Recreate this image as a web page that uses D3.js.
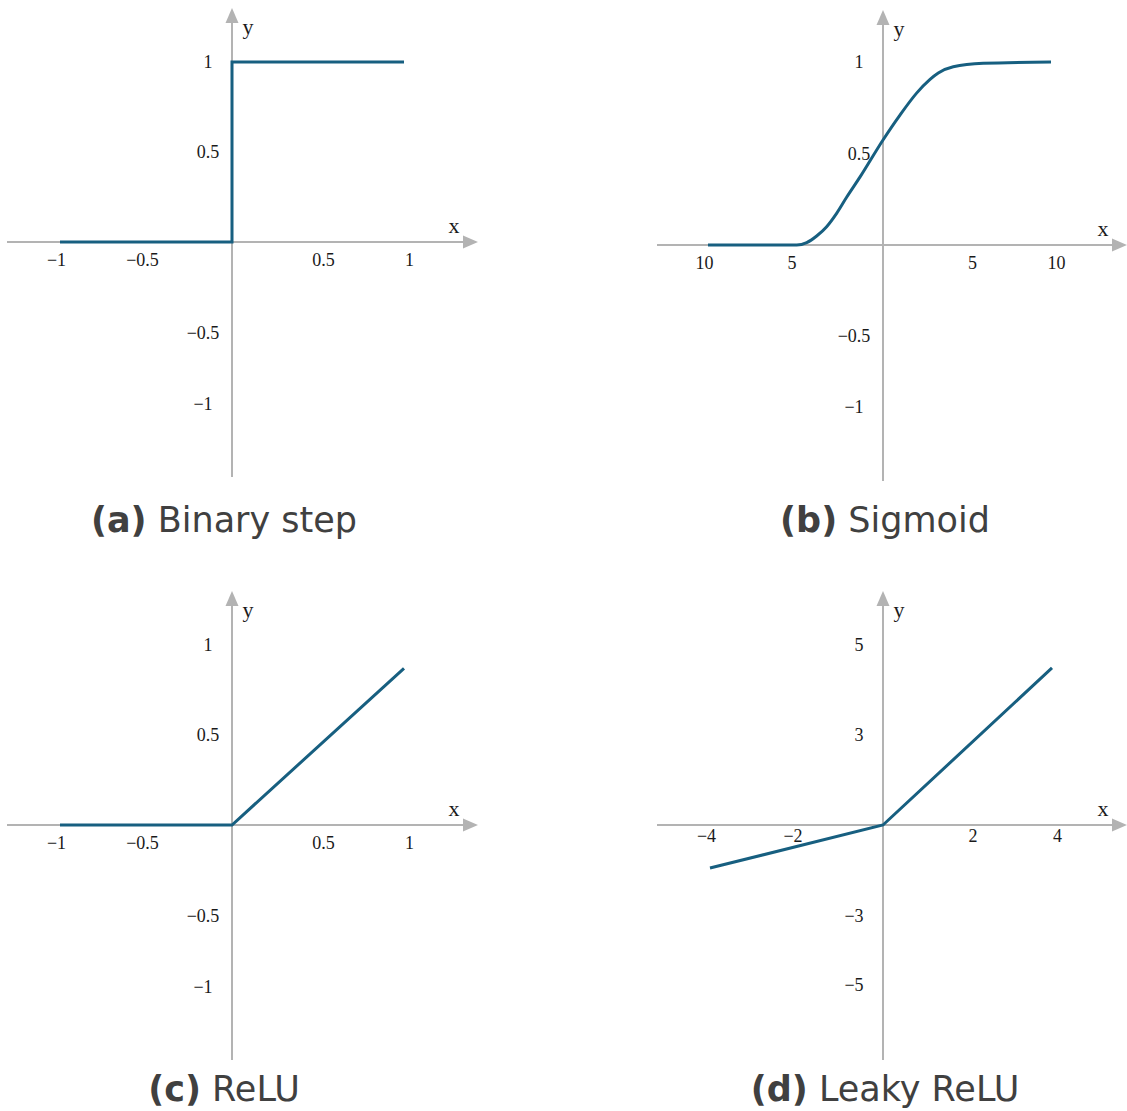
<!DOCTYPE html>
<html>
<head>
<meta charset="utf-8">
<script src="https://cdn.jsdelivr.net/npm/d3@7"></script>
<style>
  body { margin: 0; background: #fff; }
  .tick text { font-family: "Liberation Serif", serif; font-size: 18px; fill: #1a1a1a; }
  .axlabel { font-family: "Liberation Serif", serif; font-size: 22px; fill: #1a1a1a; }
  .caption { font-family: "DejaVu Sans", sans-serif; font-size: 35px; fill: #404040; }
</style>
</head>
<body>
<div id="chart"></div>
<script>
// activation function curves
var stepX = [-1, 0, 0, 1];
var stepY = [0, 0, 1, 1];

var sigX = [-10, -4.93, -4.36, -3.79, -3.22, -2.65, -2.07, -1.31, 0, 1.01, 2.0, 2.8, 3.29, 4.18, 5.97, 10];
var sigY = [0, 0, 0.013, 0.049, 0.10, 0.173, 0.262, 0.372, 0.574, 0.71, 0.83, 0.905, 0.94, 0.974, 0.993, 1.0];

var reluX = [-1, 0, 1];
var reluY = [0, 0, 0.87];

var leakyX = [-4, 0, 4];
var leakyY = [-1.42, 0, 4.49];

// tick values and the labels printed for them
var unitXTicks = [-1, -0.5, 0.5, 1];
var unitXLabels = ["\u22121", "\u22120.5", "0.5", "1"];
var unitYTicks = [1, 0.5, -0.5, -1];
var unitYLabels = ["1", "0.5", "\u22120.5", "\u22121"];

var sigXTicks = [-10, -5, 5, 10];
var sigXLabels = ["10", "5", "5", "10"];   // the original prints them without minus

var leakyXTicks = [-4, -2, 2, 4];
var leakyXLabels = ["\u22124", "\u22122", "2", "4"];
var leakyYTicks = [5, 3, -3, -5];
var leakyYLabels = ["5", "3", "\u22123", "\u22125"];

var captions = [["(a)", " Binary step"], ["(b)", " Sigmoid"], ["(c)", " ReLU"], ["(d)", " Leaky ReLU"]];

var curveColor = "#175f80";
var axisColor = "#b3b3b3";

var svg = d3.select("#chart").append("svg")
    .attr("width", 1127)
    .attr("height", 1111);

// layout of each little plot (pixel positions of the piecewise scales)
var panels = [
  { xs: stepX, ys: stepY, curve: d3.curveLinear,
    xDom: [-1, 0, 1], xRange: [60, 232, 404],
    yDom: [-1, -0.5, 0, 0.5, 1], yRange: [404, 333, 242, 152, 62],
    xTicks: unitXTicks, xLabels: unitXLabels, yTicks: unitYTicks, yLabels: unitYLabels,
    left: 7, right: 478, top: 8, bottom: 477, tickGap: 11, cap: 0, capX: 224, capY: 532 },
  { xs: sigX, ys: sigY, curve: d3.curveMonotoneX,
    xDom: [-10, 0, 10], xRange: [708, 883, 1051],
    yDom: [-1, -0.5, 0, 1], yRange: [407, 336, 245, 62],
    xTicks: sigXTicks, xLabels: sigXLabels, yTicks: unitYTicks, yLabels: unitYLabels,
    left: 657, right: 1127, top: 10, bottom: 481, tickGap: 11, cap: 1, capX: 885, capY: 532 },
  { xs: reluX, ys: reluY, curve: d3.curveLinear,
    xDom: [-1, 0, 1], xRange: [60, 232, 404],
    yDom: [-1, -0.5, 0, 0.5, 1], yRange: [987, 916, 825, 735, 645],
    xTicks: unitXTicks, xLabels: unitXLabels, yTicks: unitYTicks, yLabels: unitYLabels,
    left: 7, right: 478, top: 591, bottom: 1060, tickGap: 11, cap: 2, capX: 224, capY: 1101 },
  { xs: leakyX, ys: leakyY, curve: d3.curveLinear,
    xDom: [-4, 0, 4], xRange: [710, 883, 1052],
    yDom: [-5, -3, 0, 3, 5], yRange: [985, 916, 825, 735, 645],
    xTicks: leakyXTicks, xLabels: leakyXLabels, yTicks: leakyYTicks, yLabels: leakyYLabels,
    left: 657, right: 1127, top: 591, bottom: 1060, tickGap: 4, cap: 3, capX: 885, capY: 1101 }
];

function drawPanel(p) {
  var x = d3.scaleLinear().domain(p.xDom).range(p.xRange);
  var y = d3.scaleLinear().domain(p.yDom).range(p.yRange);
  var g = svg.append("g");
  var x0 = x(0), y0 = y(0);

  // axes lines + arrow heads
  g.append("line")
    .attr("x1", p.left).attr("x2", p.right - 12)
    .attr("y1", y0).attr("y2", y0)
    .style("stroke", axisColor).style("stroke-width", 2);
  g.append("path")
    .attr("d", "M" + p.right + "," + y0 + "L" + (p.right - 15) + "," + (y0 - 6.5) + "L" + (p.right - 15) + "," + (y0 + 6.5) + "Z")
    .style("fill", axisColor);
  g.append("line")
    .attr("x1", x0).attr("x2", x0)
    .attr("y1", p.bottom).attr("y2", p.top + 12)
    .style("stroke", axisColor).style("stroke-width", 2);
  g.append("path")
    .attr("d", "M" + x0 + "," + p.top + "L" + (x0 - 6.5) + "," + (p.top + 15) + "L" + (x0 + 6.5) + "," + (p.top + 15) + "Z")
    .style("fill", axisColor);

  // tick labels only, no tick marks
  var xa = g.append("g")
    .attr("transform", "translate(0," + y0 + ")")
    .call(d3.axisBottom(x).tickValues(p.xTicks).tickSize(0).tickPadding(p.tickGap)
      .tickFormat(function (d, i) { return p.xLabels[i]; }));
  xa.select(".domain").remove();
  xa.selectAll("text")
    .attr("dx", function (d) { return d < 0 ? -4 : 5; });

  var ya = g.append("g")
    .attr("transform", "translate(" + x0 + ",0)")
    .call(d3.axisLeft(y).tickValues(p.yTicks).tickSize(0)
      .tickFormat(function (d, i) { return p.yLabels[i]; }));
  ya.select(".domain").remove();
  ya.selectAll("text")
    .attr("text-anchor", "middle")
    .attr("x", function (d) { return d < 0 ? -29 : -24; });

  g.append("text").attr("class", "axlabel")
    .attr("x", p.right - 24).attr("y", y0 - 9)
    .attr("text-anchor", "middle")
    .text("x");
  g.append("text").attr("class", "axlabel")
    .attr("x", x0 + 16).attr("y", p.top + 26)
    .attr("text-anchor", "middle")
    .text("y");

  // the function itself
  var pts = p.xs.map(function (v, i) { return [v, p.ys[i]]; });
  var line = d3.line()
    .x(function (d) { return x(d[0]); })
    .y(function (d) { return y(d[1]); })
    .curve(p.curve);
  g.append("path")
    .datum(pts)
    .attr("d", line)
    .style("fill", "none")
    .style("stroke", curveColor)
    .style("stroke-width", 3)
    .style("stroke-linejoin", "miter");

  var cap = g.append("text").attr("class", "caption")
    .attr("x", p.capX).attr("y", p.capY)
    .attr("text-anchor", "middle");
  cap.append("tspan").style("font-weight", "bold").text(captions[p.cap][0]);
  cap.append("tspan").text(captions[p.cap][1]);
}

panels.forEach(drawPanel);
</script>
</body>
</html>
